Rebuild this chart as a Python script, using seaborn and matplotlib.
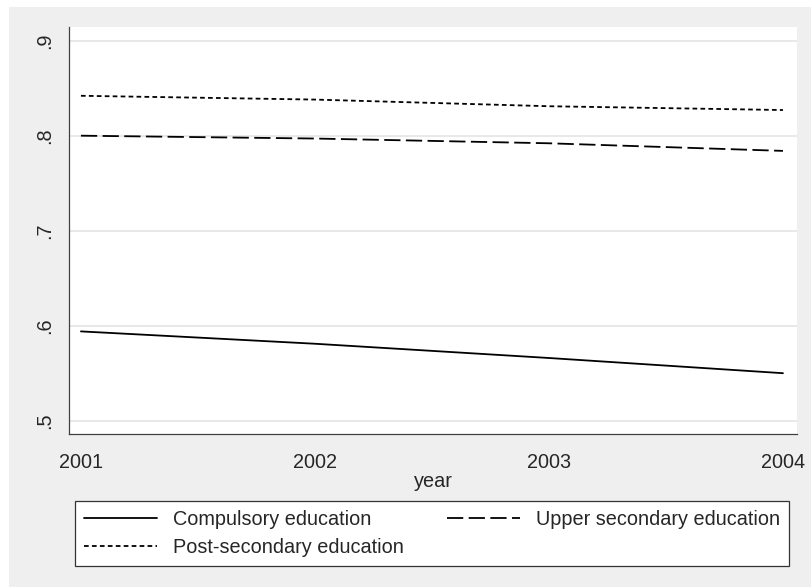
import numpy as np, pandas as pd, matplotlib
matplotlib.use("Agg"); import matplotlib.pyplot as plt
import seaborn as sns
from matplotlib.patches import Rectangle

sns.set_style("white")
plt.rcParams["font.family"] = ["Liberation Sans", "DejaVu Sans"]

years = [2001, 2002, 2003, 2004]
compulsory = [0.594, 0.581, 0.566, 0.550]
upper_secondary = [0.800, 0.797, 0.792, 0.784]
post_secondary = [0.842, 0.838, 0.831, 0.827]
series_names = ["Compulsory education", "Upper secondary education", "Post-secondary education"]
yticks = [0.5, 0.6, 0.7, 0.8, 0.9]
ytick_labels = [".5", ".6", ".7", ".8", ".9"]

df = pd.DataFrame({
    "year": years * 3,
    "value": compulsory + upper_secondary + post_secondary,
    "series": np.repeat(series_names, len(years)),
})

W, H = 811, 587
FS = 14.3
fig = plt.figure(figsize=(W / 100, H / 100), dpi=100)
fig.patch.set_facecolor("white")
fig.patches.append(Rectangle((9 / W, 0), 1, (H - 7) / H, transform=fig.transFigure,
                             facecolor="#efefef", edgecolor="none", zorder=-10))

ax = fig.add_axes([69 / W, (H - 434) / H, (797 - 69) / W, (434 - 27) / H])
ax.set_facecolor("white")
for y in yticks:
    ax.axhline(y, color="#e6e6e6", lw=1.3, zorder=0)

dash_map = {"Compulsory education": "",
            "Upper secondary education": (9, 3),
            "Post-secondary education": (2.6, 1.8)}
sns.lineplot(data=df, x="year", y="value", style="series", style_order=series_names,
             dashes=dash_map, color="black", lw=1.3, ax=ax, legend=True)

ax.set_xlim(2001 - 0.051, 2004 + 0.06)
ax.set_ylim(0.486, 0.9144)
ax.set_xticks(years)
ax.set_xticklabels([str(y) for y in years], fontsize=FS)
ax.set_yticks(yticks)
ax.set_yticklabels(ytick_labels, fontsize=FS, rotation=90, va="center")
ax.tick_params(axis="both", length=6.5, width=0.9, color="#404040", direction="out")
ax.tick_params(axis="x", pad=7)
ax.tick_params(axis="y", pad=4)
for s in ["top", "right"]:
    ax.spines[s].set_visible(False)
for s in ["left", "bottom"]:
    ax.spines[s].set_color("#404040"); ax.spines[s].set_linewidth(0.9)
ax.set_xlabel("year", fontsize=FS, labelpad=0)
ax.set_ylabel("")

handles, labels = ax.get_legend_handles_labels()
ax.get_legend().remove()
lookup = dict(zip(labels, handles))
order = ["Compulsory education", "Post-secondary education", "Upper secondary education"]
leg = fig.legend([lookup[k] for k in order], order, loc="center", ncol=2, mode="expand",
                 bbox_to_anchor=(75 / W, (H - 567) / H, (789 - 75) / W, (567 - 500) / H),
                 fontsize=FS, handlelength=3.7, handletextpad=0.8, frameon=True,
                 fancybox=False, framealpha=1, borderaxespad=0, borderpad=0.45,
                 labelspacing=0.45, columnspacing=2)
leg.get_frame().set_facecolor("white")
leg.get_frame().set_edgecolor("#333333")
leg.get_frame().set_linewidth(0.9)
for h in leg.get_lines():
    h.set_linewidth(1.3)

fig.savefig("out.png", dpi=100)
